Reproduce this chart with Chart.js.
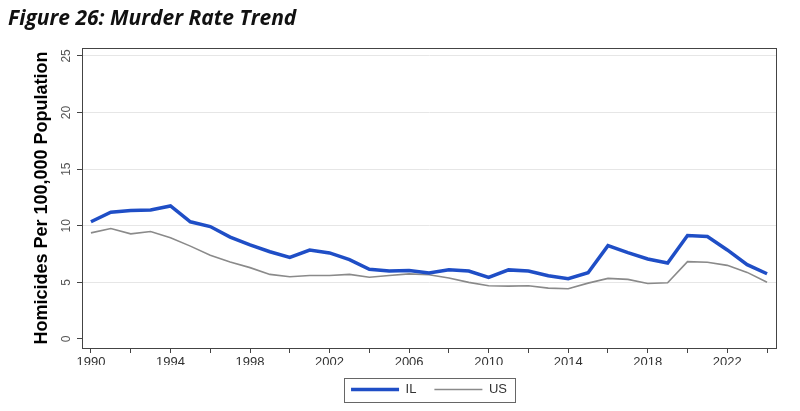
<!DOCTYPE html>
<html>
<head>
<meta charset="utf-8">
<script src="https://cdn.jsdelivr.net/npm/chart.js@4.4.0/dist/chart.umd.min.js"></script>
<style>
  html, body { margin: 0; padding: 0; background: #fff; }
  #wrap { position: relative; width: 800px; height: 411px; }
  #title {
    position: absolute; left: 8px; top: 3px;
    font-family: "Open Sans", sans-serif; font-weight: 700; font-style: italic;
    font-size: 21px; color: #111;
  }
</style>
</head>
<body>
<div id="wrap">
  <canvas id="chart" width="800" height="411"></canvas>
  <div id="title">Figure 26: Murder Rate Trend</div>
</div>
<script>
const years = [];
for (let y = 1990; y <= 2024; y++) years.push(y);

const ilRate = [10.35, 11.2, 11.35, 11.4, 11.75, 10.35, 9.93, 9.0, 8.3, 7.7,
                7.2, 7.85, 7.6, 7.0, 6.15, 6.0, 6.05, 5.82, 6.12, 6.0,
                5.44, 6.1, 6.0, 5.59, 5.32, 5.85, 8.24, 7.62, 7.06, 6.71,
                9.13, 9.05, 7.86, 6.56, 5.76];
const usRate = [9.37, 9.75, 9.28, 9.49, 8.93, 8.2, 7.4, 6.8, 6.3, 5.7,
                5.5, 5.6, 5.6, 5.7, 5.45, 5.6, 5.75, 5.67, 5.38, 5.0,
                4.7, 4.67, 4.7, 4.49, 4.43, 4.93, 5.35, 5.26, 4.9, 4.96,
                6.83, 6.77, 6.5, 5.88, 5.0];

const xTicks = [];
for (let y = 1990; y <= 2024; y += 2) xTicks.push(y);
const yTicks = [0, 5, 10, 15, 20, 25];

const pts = arr => arr.map((v, i) => ({ x: years[i], y: v }));

// frame around plot + border around legend
const framePlugin = {
  id: 'frame',
  afterDraw(chart) {
    const { ctx, chartArea: a, legend } = chart;
    ctx.save();
    ctx.strokeStyle = '#444';
    ctx.lineWidth = 1;
    ctx.strokeRect(a.left + 0.5, a.top + 0.5, a.right - a.left, a.bottom - a.top);
    if (legend && legend.legendHitBoxes.length) {
      const hb = legend.legendHitBoxes;
      const last = hb[hb.length - 1];
      const l = hb[0].left - 7, r = last.left + last.width + 8;
      const cy = hb[0].top + hb[0].height / 2;
      ctx.strokeStyle = '#666';
      ctx.strokeRect(Math.round(l) + 0.5, Math.round(cy - 12) + 0.5, Math.round(r - l), 24);
    }
    ctx.restore();
  }
};

new Chart(document.getElementById('chart'), {
  type: 'line',
  data: {
    datasets: [
      { label: 'IL', data: pts(ilRate), borderColor: '#1f4ec6', backgroundColor: '#1f4ec6',
        borderWidth: 3.5, pointRadius: 0, tension: 0 },
      { label: 'US', data: pts(usRate), borderColor: '#8a8a8a', backgroundColor: '#8a8a8a',
        borderWidth: 1.6, pointRadius: 0, tension: 0 }
    ]
  },
  options: {
    responsive: false,
    animation: false,
    layout: { padding: { top: 48, right: 24, bottom: 5, left: 0 } },
    plugins: {
      legend: {
        position: 'bottom',
        fullSize: false,
        labels: {
          usePointStyle: true, pointStyle: 'line', pointStyleWidth: 48,
          padding: 18, color: '#333',
          font: { family: 'Liberation Sans', size: 13 }
        }
      },
      tooltip: { enabled: false }
    },
    scales: {
      x: {
        type: 'linear',
        min: 1989.55, max: 2024.45,
        afterBuildTicks: s => { s.ticks = xTicks.map(v => ({ value: v })); },
        afterFit: s => { s.height = 17; },
        border: { color: '#444', width: 1 },
        grid: { drawOnChartArea: false, drawTicks: true, tickLength: 5, tickColor: '#444' },
        ticks: {
          autoSkip: false, maxRotation: 0, padding: 2, color: '#333',
          font: { family: 'Liberation Sans', size: 13 },
          callback: v => ((v - 1990) % 4 === 0 ? String(v) : '')
        }
      },
      y: {
        min: -0.8, max: 25.7,
        afterBuildTicks: s => { s.ticks = yTicks.map(v => ({ value: v })); },
        afterFit: s => { s.width = 82; },
        border: { color: '#444', width: 1 },
        grid: {
          color: c => (c.tick && c.tick.value === 0 ? 'rgba(0,0,0,0)' : '#e6e6e6'),
          tickColor: '#444', tickLength: 5
        },
        ticks: {
          minRotation: 90, maxRotation: 90, crossAlign: 'center', padding: 4,
          color: '#555', font: { family: 'Liberation Sans', size: 12 }
        },
        title: {
          display: true, text: 'Homicides Per 100,000 Population', color: '#000',
          font: { family: 'Liberation Sans', size: 18, weight: 'bold' },
          padding: { top: 31, bottom: 0 }
        }
      }
    }
  },
  plugins: [framePlugin]
});
</script>
</body>
</html>
